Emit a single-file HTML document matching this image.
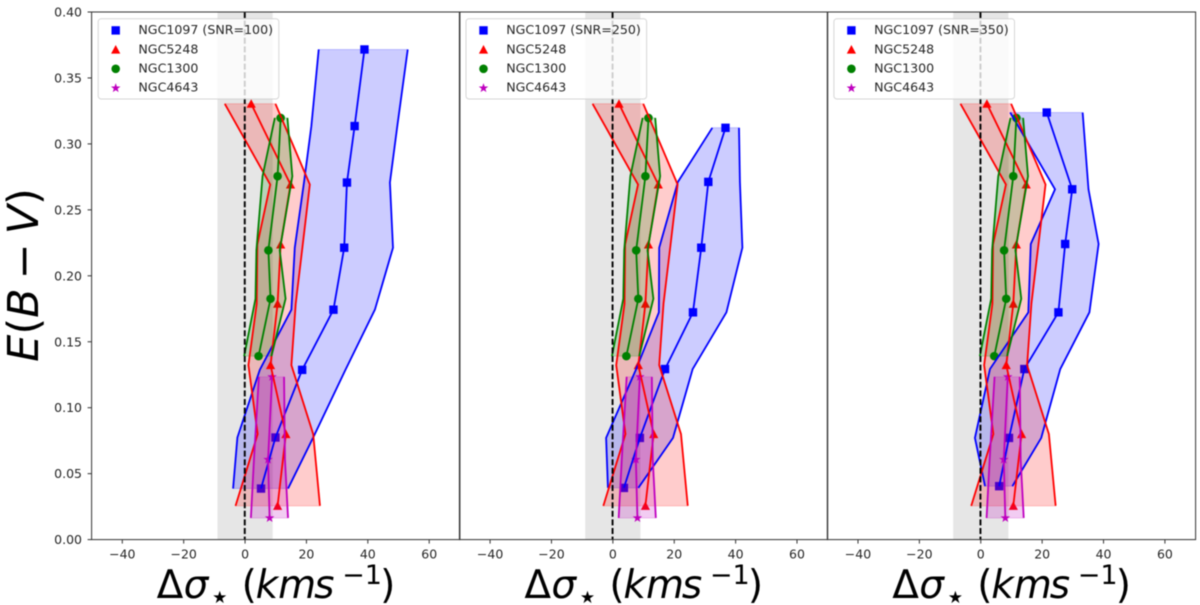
<!DOCTYPE html>
<html lang="en">
<head>
<meta charset="utf-8">
<title>E(B-V) vs velocity dispersion offset</title>
<style>
html,body{margin:0;padding:0;background:#fff;}
svg{display:block;filter:blur(0.4px);}
text{font-family:"DejaVu Sans",sans-serif;fill:#262626;}
</style>
</head>
<body>
<svg id="chart" width="1200" height="605" viewBox="0 0 1200 605" xmlns="http://www.w3.org/2000/svg">
  <text x="-275" y="38" transform="rotate(-90)" text-anchor="middle" font-size="43" style="fill:#000"><tspan font-style="italic">E</tspan>(<tspan font-style="italic">B</tspan><tspan dx="9">−</tspan><tspan dx="9" font-style="italic">V</tspan>)</text>
</svg>
<script>
// Axis limits and ticks
const xTicks = [-40, -20, 0, 20, 40, 60];
const yTicks = [0, 0.05, 0.10, 0.15, 0.20, 0.25, 0.30, 0.35, 0.40];
const snrLabels = ['100', '250', '350'];
const nameRed = 'NGC5248';
const nameGreen = 'NGC1300';
const nameMagenta = 'NGC4643';

// NGC5248 (same in all panels)
const redY = [0.3304, 0.2692, 0.2237, 0.1788, 0.1323, 0.0800, 0.0256];
const redCenter = [2.0, 14.8, 11.6, 10.6, 8.3, 13.3, 10.6];
const redLeft = [-6.6, 8.2, 4.0, 3.8, 1.1, 4.1, -3.1];
const redRight = [9.9, 21.1, 18.8, 16.5, 15.1, 22.2, 24.4];

// NGC1300 (same in all panels)
const greenY = [0.3197, 0.2755, 0.2193, 0.1826, 0.1391];
const greenCenter = [11.6, 10.6, 7.6, 8.3, 4.4];
const greenLeft = [9.7, 5.7, 3.7, 3.4, -0.3];
const greenRight = [13.8, 15.4, 11.3, 13.2, 8.6];

// NGC4643 (same in all panels)
const magentaY = [0.1234, 0.0607, 0.0164];
const magentaCenter = [8.8, 7.5, 8.0];
const magentaLeft = [4.5, 2.9, 1.9];
const magentaRight = [12.7, 13.0, 14.0];

// NGC1097 SNR=100
const blueY100 = [0.3716, 0.3135, 0.2707, 0.2213, 0.1743, 0.1287, 0.0774, 0.0387];
const blueCenter100 = [38.9, 35.7, 33.2, 32.3, 28.8, 18.6, 9.9, 5.2];
const blueLeft100 = [24.0, 21.6, 19.2, 16.2, 15.1, 4.8, -2.5, -3.9];
const blueRight100 = [53.0, 49.6, 47.2, 48.2, 42.3, 32.7, 22.2, 14.0];

// NGC1097 SNR=250
const blueY250 = [0.3122, 0.2712, 0.2213, 0.1723, 0.1293, 0.0771, 0.0392];
const blueCenter250 = [36.7, 31.1, 28.8, 26.1, 17.0, 8.8, 3.6];
const blueLeft250 = [32.4, 21.2, 15.1, 15.0, 7.6, -2.2, -1.6];
const blueRight250 = [41.1, 41.4, 42.2, 37.0, 26.0, 19.6, 8.3];

// NGC1097 SNR=350
const blueY350 = [0.3238, 0.2656, 0.2241, 0.1723, 0.1293, 0.0771, 0.0405];
const blueCenter350 = [21.5, 29.8, 27.5, 25.3, 14.2, 9.2, 6.0];
const blueLeft350 = [9.6, 24.2, 16.3, 15.5, 3.0, -1.9, 1.4];
const blueRight350 = [33.2, 35.1, 38.4, 35.4, 25.9, 19.7, 10.3];

const spanLimit = 9;

const NS = 'http://www.w3.org/2000/svg';
const svg = document.getElementById('chart');
const yBottom = 539.6, yTop = 12;
const yScale = v => yBottom - v / 0.4 * (yBottom - yTop);
const panelLefts = [91.6, 459.4, 827.3];
const panelWidth = 368.3;
const xFor = left => v => left + (v + 50) / 120 * panelWidth;

function mk(tag, attrs, parent) {
  const el = document.createElementNS(NS, tag);
  for (const k in attrs) el.setAttribute(k, attrs[k]);
  (parent || svg).appendChild(el);
  return el;
}
const ptsOf = (xs, ys, sx) => xs.map((x, i) => sx(x).toFixed(2) + ',' + yScale(ys[i]).toFixed(2)).join(' ');
const fillOf = (l, r, ys, sx) => ptsOf(l, ys, sx) + ' ' + ptsOf(r.slice().reverse(), ys.slice().reverse(), sx);

function marker(kind, cx, cy, color, parent) {
  if (kind === 'square') return mk('rect', {x: cx - 4.2, y: cy - 4.2, width: 8.4, height: 8.4, fill: color}, parent);
  if (kind === 'circle') return mk('circle', {cx: cx, cy: cy, r: 4.3, fill: color}, parent);
  if (kind === 'triangle') return mk('polygon', {points: `${cx},${cy - 4.6} ${cx + 4.6},${cy + 4} ${cx - 4.6},${cy + 4}`, fill: color}, parent);
  const p = [];
  for (let i = 0; i < 10; i++) {
    const r = i % 2 ? 2 : 5, a = -Math.PI / 2 + i * Math.PI / 5;
    p.push((cx + r * Math.cos(a)).toFixed(2) + ',' + (cy + r * Math.sin(a)).toFixed(2));
  }
  return mk('polygon', {points: p.join(' '), fill: color}, parent);
}

const blueSets = [
  {y: blueY100, c: blueCenter100, l: blueLeft100, r: blueRight100},
  {y: blueY250, c: blueCenter250, l: blueLeft250, r: blueRight250},
  {y: blueY350, c: blueCenter350, l: blueLeft350, r: blueRight350}
];

panelLefts.forEach((left, idx) => {
  const sx = xFor(left);
  const tag = 'snr-' + snrLabels[idx];
  const panel = mk('g', {});
  
  

  const clipId = 'clip' + idx;
  const cp = mk('clipPath', {id: clipId}, panel);
  mk('rect', {x: left, y: yTop, width: panelWidth, height: yBottom - yTop}, cp);
  const plot = mk('g', {'clip-path': `url(#${clipId})`}, panel);

  const span = mk('rect', {x: sx(-spanLimit), y: yTop, width: sx(spanLimit) - sx(-spanLimit), height: yBottom - yTop, fill: '#808080', 'fill-opacity': 0.2}, plot);
  
  

  const series = [
    {name: 'ngc1097', color: '#0000ff', kind: 'square', y: blueSets[idx].y, c: blueSets[idx].c, l: blueSets[idx].l, r: blueSets[idx].r},
    {name: 'ngc5248', color: '#ff0000', kind: 'triangle', y: redY, c: redCenter, l: redLeft, r: redRight},
    {name: 'ngc1300', color: '#008000', kind: 'circle', y: greenY, c: greenCenter, l: greenLeft, r: greenRight},
    {name: 'ngc4643', color: '#bf00bf', kind: 'star', y: magentaY, c: magentaCenter, l: magentaLeft, r: magentaRight}
  ];

  series.forEach(s => {
    const band = mk('polygon', {points: fillOf(s.l, s.r, s.y, sx), fill: s.color, 'fill-opacity': 0.2, stroke: s.color, 'stroke-opacity': 0.2, 'stroke-width': 1}, plot);
    
    
    s.c.forEach((v, i) => {
      const m = marker(s.kind, sx(v), yScale(s.y[i]), s.color, plot);
      
      
    });
  });

  series.forEach(s => {
    [s.l, s.c, s.r].forEach(arr => {
      const line = mk('polyline', {points: ptsOf(arr, s.y, sx), fill: 'none', stroke: s.color, 'stroke-width': 1.8}, plot);
      
      
    });
  });

  const zero = mk('line', {x1: sx(0) - 0.3, x2: sx(0) - 0.3, y1: yTop, y2: yBottom, stroke: '#000', 'stroke-width': 1.9, 'stroke-dasharray': '6 2.6'}, plot);
  
  

  // Frame
  const frame = mk('rect', {x: left, y: yTop, width: panelWidth, height: yBottom - yTop, fill: 'none', stroke: '#333333', 'stroke-width': 1}, panel);
  
  

  // X ticks
  xTicks.forEach(t => {
    const tick = mk('line', {x1: sx(t), x2: sx(t), y1: yBottom, y2: yBottom + 4, stroke: '#333333', 'stroke-width': 1}, panel);
    
    
    const lab = mk('text', {x: sx(t), y: 558.5, 'text-anchor': 'middle', 'font-size': 12.5}, panel);
    lab.textContent = (t < 0 ? '−' : '') + Math.abs(t);
    
    
  });

  // Y ticks (first panel only)
  if (idx === 0) {
    yTicks.forEach(t => {
      const tick = mk('line', {x1: left - 4, x2: left, y1: yScale(t), y2: yScale(t), stroke: '#333333', 'stroke-width': 1}, panel);
      
      
      const lab = mk('text', {x: 82, y: yScale(t) + 4.5, 'text-anchor': 'end', 'font-size': 12.5}, panel);
      lab.textContent = t.toFixed(2);
      
      
    });
  }

  // X axis title: mathtext spacing is set piece by piece
  const title = mk('text', {x: left + 65, y: 598, 'font-size': 39}, panel);
  title.setAttribute('style', 'fill:#000');
  
  
  const at = off => (left + off).toFixed(1);
  title.innerHTML = 'Δ<tspan font-style="italic" x="' + at(92) + '">σ</tspan>' +
    '<tspan font-size="17" x="' + at(120.5) + '" dy="5">★</tspan>' +
    '<tspan x="' + at(150) + '" dy="-5">(</tspan>' +
    '<tspan font-style="italic" x="' + at(164) + '">km</tspan>' +
    '<tspan font-style="italic" x="' + at(222.5) + '">s</tspan>' +
    '<tspan font-size="27" x="' + at(250.5) + '" dy="-14">−1</tspan>' +
    '<tspan x="' + at(288.5) + '" dy="14">)</tspan>';

  // Legend
  const lx = left + 6.6;
  const legend = mk('g', {}, panel);
  
  
  mk('rect', {x: lx, y: 18.7, width: 180.6, height: 80.3, rx: 3, fill: '#fff', 'fill-opacity': 0.8, stroke: '#cccccc', 'stroke-opacity': 0.8, 'stroke-width': 1}, legend);
  const names = ['NGC1097 (SNR=' + snrLabels[idx] + ')', nameRed, nameGreen, nameMagenta];
  const kinds = ['square', 'triangle', 'circle', 'star'];
  const cols = ['#0000ff', '#ff0000', '#008000', '#bf00bf'];
  names.forEach((n, i) => {
    const ry = 30.2 + i * 19.2;
    const entry = mk('g', {}, legend);
    
    
    marker(kinds[i], lx + 17.5, ry + (i === 3 ? 0.3 : 0.2), cols[i], entry);
    const tx = mk('text', {x: lx + 40.2, y: ry + 3.9, 'font-size': 12.6}, entry);
    tx.textContent = n;
  });
});
</script>
</body>
</html>
